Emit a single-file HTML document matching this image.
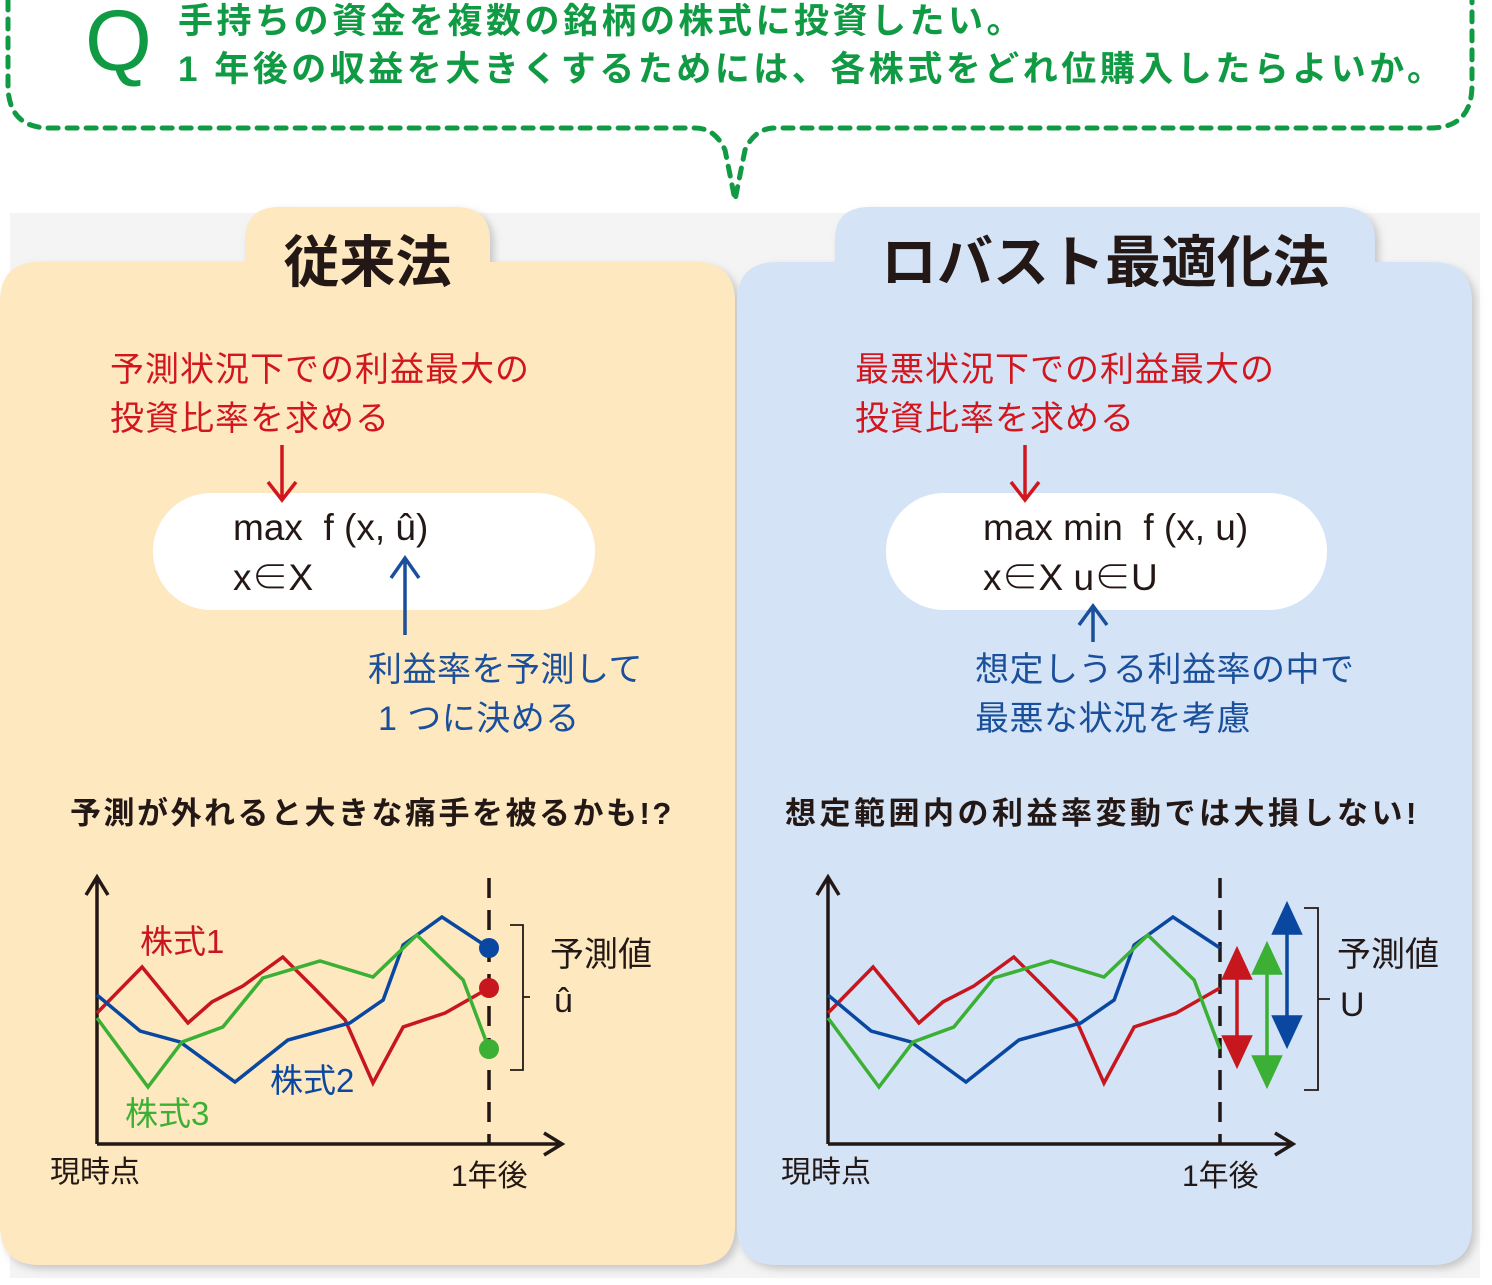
<!DOCTYPE html>
<html><head><meta charset="utf-8">
<style>
body{margin:0;width:1492px;height:1285px;position:relative;background:#fff;overflow:hidden;font-family:"Liberation Sans","Noto Sans CJK JP",sans-serif}
.a{position:absolute;white-space:nowrap}
.red{color:#d2161e;font-size:34px;line-height:49px;letter-spacing:1px}
.blue{color:#1a4f9c;font-size:34px;line-height:49px;letter-spacing:0.5px}
.hd{font-size:31px;font-weight:bold;color:#231815;letter-spacing:2.5px}
.f{font-size:37px;color:#231815;line-height:50px;font-weight:300}
</style></head><body>
<div class="a" style="left:10px;top:213px;width:1470px;height:1065px;background:#f4f4f4"></div>
<svg class="a" style="left:0;top:0" width="1492" height="1285">
 <defs><filter id="sh" x="-5%" y="-5%" width="110%" height="110%"><feDropShadow dx="4" dy="4" stdDeviation="4" flood-color="#999" flood-opacity="0.5"/></filter></defs>
 <path d="M8,0 V85 Q8,128 50,128 H695 Q715,128 725,150 L735,200 L745,150 Q755,128 775,128 H1430 Q1472,128 1472,85 V0" fill="none" stroke="#119a44" stroke-width="5" stroke-dasharray="10 9" stroke-linecap="round"/>
 <g filter="url(#sh)">
  <path d="M245,262 V240 Q245,207 280,207 H455 Q490,207 490,240 V262 H695 Q735,262 735,302 V1225 Q735,1265 695,1265 H40 Q0,1265 0,1225 V302 Q0,262 40,262 Z" fill="#fde8bf"/>
  <path d="M835,262 V240 Q835,207 870,207 H1340 Q1375,207 1375,240 V262 H1432 Q1472,262 1472,302 V1225 Q1472,1265 1432,1265 H777 Q737,1265 737,1225 V302 Q737,262 777,262 Z" fill="#d4e4f6"/>
 </g>
 <rect x="153" y="493" width="442" height="117" rx="58" fill="#fff"/>
 <rect x="886" y="493" width="441" height="117" rx="58" fill="#fff"/>
 <g fill="none" stroke-width="3.5">
  <path d="M282,445 V498 M268,482 L282,500 L296,482" stroke="#d2161e"/>
  <path d="M405,635 V560 M391,578 L405,558 L419,578" stroke="#1a4f9c"/>
  <path d="M1025,445 V498 M1011,482 L1025,500 L1039,482" stroke="#d2161e"/>
  <path d="M1093,642 V608 M1079,625 L1093,606 L1107,625" stroke="#1a4f9c"/>
 </g>
</svg>
<div class="a" style="left:85px;top:-8px;font-size:86px;color:#119a44;font-weight:300">Q</div>
<div class="a" style="left:178px;top:-2px;font-size:35px;letter-spacing:3.5px;color:#119a44;font-weight:bold;line-height:48px">手持ちの資金を複数の銘柄の株式に投資したい。<br>1 年後の収益を大きくするためには、各株式をどれ位購入したらよいか。</div>
<div class="a" style="left:245px;width:245px;top:218px;text-align:center;font-size:56px;font-weight:bold;color:#231815">従来法</div>
<div class="a" style="left:835px;width:540px;top:218px;text-align:center;font-size:56px;font-weight:bold;color:#231815">ロバスト最適化法</div>
<div class="a red" style="left:110px;top:346px">予測状況下での利益最大の<br>投資比率を求める</div>
<div class="a red" style="left:855px;top:346px">最悪状況下での利益最大の<br>投資比率を求める</div>
<div class="a f" style="left:233px;top:503px">max&nbsp; f (x, û)<br>x∈X</div>
<div class="a f" style="left:983px;top:503px">max min&nbsp; f (x, u)<br>x∈X u∈U</div>
<div class="a blue" style="left:368px;top:646px">利益率を予測して<br>&nbsp;1 つに決める</div>
<div class="a blue" style="left:975px;top:646px">想定しうる利益率の中で<br>最悪な状況を考慮</div>
<div class="a hd" style="left:70px;top:788px">予測が外れると大きな痛手を被るかも!?</div>
<div class="a hd" style="left:785px;top:788px;letter-spacing:3.5px">想定範囲内の利益率変動では大損しない!</div>
<svg id="ch" class="a" style="left:0;top:0" width="1492" height="1285"></svg>
<script>
const redT=[0,11.5,23.2,29.3,37.2,47.4,55.1,63.3,70.4,78.1,88.8,100];
const redV=[52.4,70.8,48.4,56.8,63.2,74.8,62.8,49.6,24.4,46.8,52.4,62.4];
const blueT=[0,11,21.2,35.2,48.7,64.5,73,78.1,88,100];
const blueV=[59.6,45.2,40.8,24.8,41.6,48.4,57.6,79.6,90.8,78.4];
const greenT=[0,13,21.7,32.1,42.3,56.9,70.4,81.6,93.4,100];
const greenV=[50.4,22.8,40.8,46.8,66.4,73.2,66.8,83.6,65.6,38];
const seriesNames=["株式1","株式2","株式3"];
const NS="http://www.w3.org/2000/svg";
const svg=document.getElementById('ch');
function mk(t,a,txt){const e=document.createElementNS(NS,t);for(const k in a)e.setAttribute(k,a[k]);if(txt)e.textContent=txt;svg.appendChild(e);return e;}
const COL={r:"#c8161e",b:"#0a47a0",g:"#3bb034"};
function drawChart(x0,side){
 const xs=t=>x0+t/100*392, ys=v=>1144-v*2.5;
 let e=mk('path',{d:`M${x0},1144 V878 M${x0-11},895 L${x0},877 L${x0+11},895 M${x0},1144 H${x0+465} M${x0+447},1133 L${x0+465},1144 L${x0+447},1155`,fill:'none',stroke:'#231815','stroke-width':3.5});
 
 
 e=mk('line',{x1:xs(100),x2:xs(100),y1:878,y2:1144,stroke:'#231815','stroke-width':3.5,'stroke-dasharray':'20 12'});
 
 
 [[redT,redV,COL.r,'red'],[blueT,blueV,COL.b,'blue'],[greenT,greenV,COL.g,'green']].forEach(s=>{
  const p=mk('polyline',{points:s[0].map((t,i)=>xs(t)+','+ys(s[1][i])).join(' '),fill:'none',stroke:s[2],'stroke-width':3.5});
  
  
  if(side==='L'){const c=mk('circle',{cx:xs(100),cy:ys(s[1][s[1].length-1]),r:10,fill:s[2]});
   
   }
 });
 e=mk('text',{x:x0-47,y:1182,'font-size':30,fill:'#231815'},'現時点');
 
 
 e=mk('text',{x:xs(100)-38,y:1186,'font-size':30,fill:'#231815'},'1年後');
 
 
}
drawChart(97,'L');drawChart(828,'R');
function lab(x,y,c,t,n,fs){const e=mk('text',{x:x,y:y,'font-size':fs||33,fill:c},t);}
lab(140,953,COL.r,seriesNames[0],'label-stock1');
lab(270,1092,COL.b,seriesNames[1],'label-stock2');
lab(125,1125,COL.g,seriesNames[2],'label-stock3');
lab(550,966,'#231815','予測値','forecast-label',34);
lab(554,1012,'#231815','û','u-hat-label',34);
lab(1337,966,'#231815','予測値','forecast-label-right',34);
lab(1340,1016,'#231815','U','u-set-label',34);
let b=mk('path',{d:'M510,925 H523 V997 H530 M523,997 V1070 H510',fill:'none',stroke:'#231815','stroke-width':1.8});


b=mk('path',{d:'M1304,908 H1318 V999 H1330 M1318,999 V1090 H1304',fill:'none',stroke:'#231815','stroke-width':1.8});


[[1237,950,1065,COL.r,'red'],[1267,945,1085,COL.g,'green'],[1287,905,1045,COL.b,'blue']].forEach(a=>{
 const [x,y1,y2,c,n]=a;
 const g=mk('path',{d:`M${x},${y1+20} V${y2-20} M${x-13},${y1+28} L${x},${y1} L${x+13},${y1+28} Z M${x-13},${y2-28} L${x},${y2} L${x+13},${y2-28} Z`,fill:c,stroke:c,'stroke-width':3.5});
 
 
});
</script>
</body></html>
